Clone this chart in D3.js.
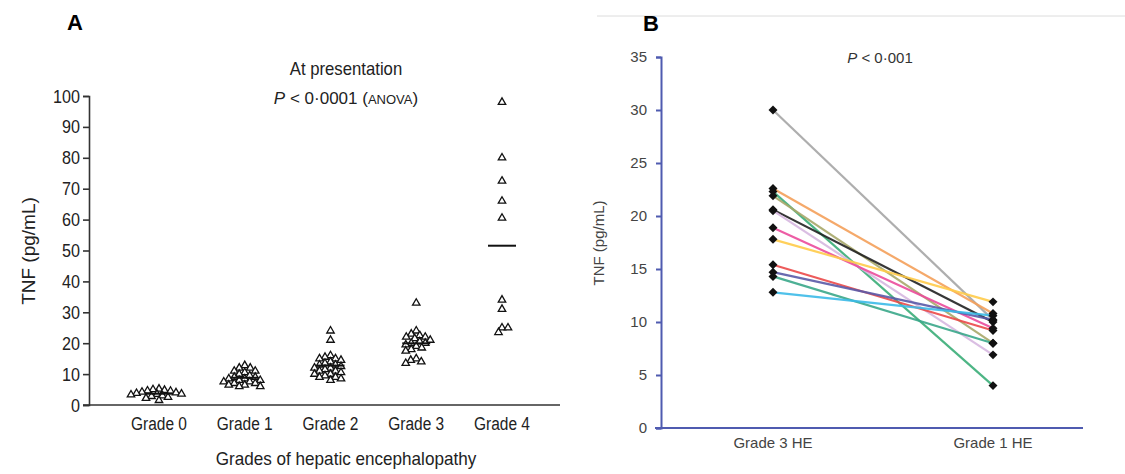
<!DOCTYPE html>
<html>
<head>
<meta charset="utf-8">
<script src="https://cdn.jsdelivr.net/npm/d3@7"></script>
<style>
  body { margin: 0; background: #fff; }
  svg { display: block; }
  .narrow { font-family: 'Liberation Sans Narrow', 'Arial Narrow', 'Liberation Sans', sans-serif; }
  .plain { font-family: 'Liberation Sans', Arial, sans-serif; }
</style>
</head>
<body>
<svg id="chart" width="1125" height="474"></svg>
<script>
// ---- panel A data: TNF at presentation by grade of HE
const gradesA = ['Grade 0', 'Grade 1', 'Grade 2', 'Grade 3', 'Grade 4'];
const grade0 = [5.2, 5, 4.8, 4.6, 4.5, 4.2, 4, 3.8, 3.6, 3.5, 3.3, 3, 2.8, 2.5, 2.2, 1.5];
const grade1 = [12.8, 12, 12, 11, 11, 10.5, 10, 9.5, 9, 9, 8.5, 8.5, 8, 8, 7.5, 7.5, 7, 7, 6.5, 6.5, 6, 6];
const grade2 = [24, 21, 16, 15.5, 15, 15, 14.5, 14, 13.5, 13, 13, 12.5, 12, 12, 11.5, 11, 11, 10.5, 10, 10, 9.5, 9, 9, 8.5, 8];
const grade3 = [33, 24, 23, 22.5, 22, 22, 21.5, 21, 20.5, 20, 20, 19.5, 19, 18.5, 18, 17.5, 15, 14.5, 14, 13.5];
const grade4 = [98, 80, 72.5, 66, 60.5, 34, 31, 25, 23.5, 25];
const ticksA = [0, 10, 20, 30, 40, 50, 60, 70, 80, 90, 100];

// ---- panel B data: paired TNF, grade 3 HE -> grade 1 HE
const groupsB = ['Grade 3 HE', 'Grade 1 HE'];
const before = [30, 22.6, 22.3, 21.9, 20.6, 20.5, 18.9, 17.8, 15.4, 14.7, 14.3, 12.8];
const after = [10.2, 10.8, 4, 8, 10, 6.9, 9.4, 11.9, 9.2, 10.2, 8, 10.6];
const pairColors = ['#a6a6a6', '#f5a05a', '#3aae78', '#a8a86a', '#222222', '#d7b8e0',
                    '#ec4c9c', '#ffcc4a', '#ec4a4a', '#5a5aa8', '#3aa88a', '#3cbbe8'];
const ticksB = [0, 5, 10, 15, 20, 25, 30, 35];

const svg = d3.select('#chart');

// squeeze text a bit, the original uses a condensed face
function condense(sel, f) {
  sel.each(function () {
    const len = this.getComputedTextLength();
    d3.select(this).attr('textLength', len * f).attr('lengthAdjust', 'spacingAndGlyphs');
  });
}

// ================= Panel A =================
const gA = svg.append('g').attr('class', 'narrow');
const yA = d3.scaleLinear().domain([0, 100]).range([405, 96]);
const xA = d3.scalePoint().domain(gradesA).range([159, 502]);

gA.append('g')
  .attr('transform', 'translate(89,0)')
  .call(d3.axisLeft(yA).tickValues(ticksA).tickSize(6).tickPadding(3))
  .call(g => g.select('.domain').attr('stroke', '#333').attr('stroke-width', 1.6))
  .call(g => g.selectAll('.tick line').attr('stroke', '#333').attr('stroke-width', 1.6))
  .call(g => g.selectAll('.tick text').attr('font-size', 19).attr('fill', '#222')
    .attr('font-family', null).call(condense, 0.85));

// x axis line
gA.append('line')
  .attr('x1', 83).attr('x2', 560)
  .attr('y1', yA(0)).attr('y2', yA(0))
  .attr('stroke', '#333').attr('stroke-width', 1.6);

gA.selectAll('.glabel')
  .data(gradesA)
  .join('text')
  .attr('x', d => xA(d))
  .attr('y', 430)
  .attr('text-anchor', 'middle')
  .attr('font-size', 18)
  .attr('fill', '#222')
  .text(d => d)
  .call(condense, 0.86);

// simple dodge so triangles spread sideways instead of stacking
function dodge(vals, minDist) {
  const placed = [];
  return vals.map(v => {
    const y = yA(v);
    let dx = 0;
    for (let k = 0; k < 200; k++) {
      const cand = (k % 2 ? -1 : 1) * Math.ceil(k / 2) * 0.5;
      if (placed.every(p => Math.hypot(p.x - cand, p.y - y) >= minDist)) { dx = cand; break; }
    }
    placed.push({ x: dx, y });
    return { v, dx };
  });
}

const seriesA = [grade0, grade1, grade2, grade3, grade4];
const tri = d3.symbol().type(d3.symbolTriangle).size(24);

seriesA.forEach((vals, i) => {
  const cx = xA(gradesA[i]);
  const pts = dodge(vals, 5.6);
  gA.append('g')
    .selectAll('path')
    .data(pts)
    .join('path')
    .attr('d', tri)
    .attr('transform', d => `translate(${cx + d.dx},${yA(d.v)})`)
    .attr('fill', '#fff')
    .attr('stroke', '#111')
    .attr('stroke-width', 1.3);

  const m = d3.mean(vals);
  gA.append('line')
    .attr('x1', cx - 14).attr('x2', cx + 14)
    .attr('y1', yA(m)).attr('y2', yA(m))
    .attr('stroke', '#111').attr('stroke-width', 2);
});

gA.append('text')
  .attr('x', 346).attr('y', 75)
  .attr('text-anchor', 'middle').attr('font-size', 19).attr('fill', '#222')
  .text('At presentation')
  .call(condense, 0.88);

const pA = gA.append('text')
  .attr('x', 346).attr('y', 104)
  .attr('text-anchor', 'middle').attr('font-size', 17).attr('fill', '#222');
pA.append('tspan').attr('font-style', 'italic').text('P');
pA.append('tspan').text(' < 0·0001 (');
pA.append('tspan').attr('font-size', 13).text('ANOVA');
pA.append('tspan').text(')');

gA.append('text')
  .attr('transform', 'translate(35,251) rotate(-90)')
  .attr('text-anchor', 'middle').attr('font-size', 19).attr('fill', '#222')
  .attr('font-family', "'Liberation Sans', Arial, sans-serif")
  .text('TNF (pg/mL)');

gA.append('text')
  .attr('x', 346).attr('y', 465)
  .attr('text-anchor', 'middle').attr('font-size', 19).attr('fill', '#222')
  .text('Grades of hepatic encephalopathy')
  .call(condense, 0.9);

svg.append('text')
  .attr('class', 'plain')
  .attr('x', 75).attr('y', 30)
  .attr('text-anchor', 'middle').attr('font-size', 22).attr('font-weight', 'bold')
  .text('A');

// ================= Panel B =================
const gB = svg.append('g').attr('class', 'plain');
const yB = d3.scaleLinear().domain([0, 35]).range([428, 57]);
const xB = d3.scalePoint().domain(groupsB).range([773, 993]);
const axisBlue = '#4f5bb0';

svg.append('line')
  .attr('x1', 597).attr('x2', 1125).attr('y1', 16).attr('y2', 16)
  .attr('stroke', '#dcdcdc').attr('stroke-width', 1);

gB.append('g')
  .attr('transform', 'translate(661,0)')
  .call(d3.axisLeft(yB).tickValues(ticksB).tickSize(5).tickPadding(9))
  .call(g => g.select('.domain').attr('stroke', axisBlue).attr('stroke-width', 2))
  .call(g => g.selectAll('.tick line').attr('stroke', axisBlue).attr('stroke-width', 2))
  .call(g => g.selectAll('.tick text').attr('font-size', 15).attr('fill', '#444')
    .attr('font-family', null));

gB.append('line')
  .attr('x1', 655).attr('x2', 1083)
  .attr('y1', yB(0)).attr('y2', yB(0))
  .attr('stroke', axisBlue).attr('stroke-width', 2);

gB.selectAll('.blabel')
  .data(groupsB)
  .join('text')
  .attr('x', d => xB(d))
  .attr('y', 448)
  .attr('text-anchor', 'middle')
  .attr('font-size', 15)
  .attr('fill', '#444')
  .text(d => d);

const pairs = before.map((b, i) => ({ b, a: after[i], color: pairColors[i] }));

gB.append('g')
  .selectAll('line')
  .data(pairs)
  .join('line')
  .attr('x1', xB(groupsB[0])).attr('x2', xB(groupsB[1]))
  .attr('y1', d => yB(d.b)).attr('y2', d => yB(d.a))
  .attr('stroke', d => d.color)
  .attr('stroke-width', 2.2)
  .attr('opacity', 0.9);

const dia = d3.symbol().type(d3.symbolSquare).size(40);
const ends = pairs.flatMap(d => [
  { g: groupsB[0], v: d.b },
  { g: groupsB[1], v: d.a }
]);
gB.append('g')
  .selectAll('path')
  .data(ends)
  .join('path')
  .attr('d', dia)
  .attr('transform', d => `translate(${xB(d.g)},${yB(d.v)}) rotate(45)`)
  .attr('fill', '#111');

const pB = gB.append('text')
  .attr('x', 880).attr('y', 63)
  .attr('text-anchor', 'middle').attr('font-size', 15).attr('fill', '#333');
pB.append('tspan').attr('font-style', 'italic').text('P');
pB.append('tspan').text(' < 0·001');

gB.append('text')
  .attr('transform', 'translate(604,243) rotate(-90)')
  .attr('text-anchor', 'middle').attr('font-size', 15).attr('fill', '#444')
  .text('TNF (pg/mL)');

svg.append('text')
  .attr('class', 'plain')
  .attr('x', 651).attr('y', 31)
  .attr('text-anchor', 'middle').attr('font-size', 22).attr('font-weight', 'bold')
  .text('B');
</script>
</body>
</html>
